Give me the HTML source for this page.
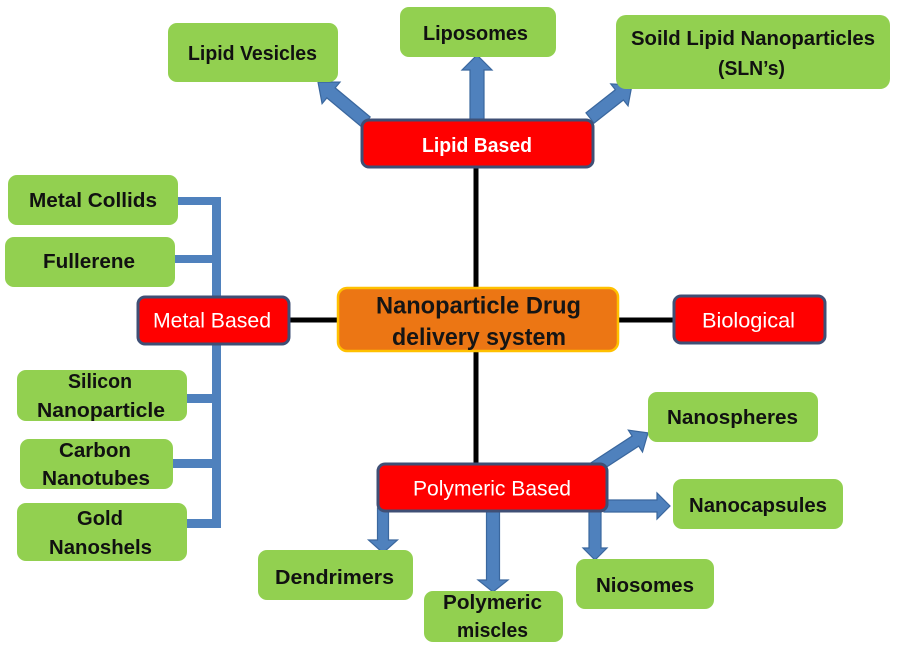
<!DOCTYPE html>
<html><head><meta charset="utf-8">
<style>
html,body{margin:0;padding:0;background:#fff;}
svg{display:block;}
.g{fill:#92D050;}
.r{fill:#FF0000;stroke:#3F4F75;stroke-width:3;}
.tb{font-family:"Liberation Sans",sans-serif;font-weight:bold;font-size:20px;fill:#111;}
.tw{font-family:"Liberation Sans",sans-serif;font-size:21px;fill:#fff;}
.tc{font-family:"Liberation Sans",sans-serif;font-weight:bold;font-size:24px;fill:#151515;}
.ar{fill:#4F81BD;stroke:#3A679E;stroke-width:1.2;}
</style></head>
<body>
<svg width="899" height="651" viewBox="0 0 899 651" xmlns="http://www.w3.org/2000/svg">
<rect width="899" height="651" fill="#fff"/>

<!-- black connectors -->
<rect x="473.5" y="166" width="5" height="123" fill="#000"/>
<rect x="473.5" y="350" width="5" height="115" fill="#000"/>
<rect x="288" y="317.5" width="51" height="5" fill="#000"/>
<rect x="617" y="317.5" width="58" height="5" fill="#000"/>

<!-- blue bracket -->
<g fill="#4F81BD">
<rect x="212" y="197" width="9" height="331"/>
<rect x="176" y="197" width="45" height="8"/>
<rect x="173" y="255" width="43" height="8"/>
<rect x="185" y="394" width="31" height="9"/>
<rect x="171" y="459" width="45" height="9"/>
<rect x="185" y="519" width="36" height="9"/>
</g>

<!-- block arrows -->
<polygon class="ar" transform="translate(366,122) rotate(-140.2)" points="0,-6.5 45.5,-6.5 45.5,-14 62.5,0 45.5,14 45.5,6.5 0,6.5"/>
<polygon class="ar" transform="translate(477,122) rotate(-90)" points="0,-7 52,-7 52,-15 67,0 52,15 52,7 0,7"/>
<polygon class="ar" transform="translate(590,118) rotate(-38.2)" points="0,-6.5 37.4,-6.5 37.4,-14 53.4,0 37.4,14 37.4,6.5 0,6.5"/>
<polygon class="ar" transform="translate(594,468) rotate(-33)" points="0,-6 49.4,-6 49.4,-13 64.4,0 49.4,13 49.4,6 0,6"/>
<polygon class="ar" transform="translate(604,506) rotate(0)" points="0,-6 53,-6 53,-13 66,0 53,13 53,6 0,6"/>
<polygon class="ar" transform="translate(595,508) rotate(90)" points="0,-6 40,-6 40,-12 52,0 40,12 40,6 0,6"/>
<polygon class="ar" transform="translate(383,508) rotate(90)" points="0,-5.5 32,-5.5 32,-14.5 45,0 32,14.5 32,5.5 0,5.5"/>
<polygon class="ar" transform="translate(493,508) rotate(90)" points="0,-6.5 72,-6.5 72,-15 84,0 72,15 72,6.5 0,6.5"/>

<!-- green boxes -->
<rect class="g" x="168" y="23" width="170" height="59" rx="9"/>
<rect class="g" x="400" y="7" width="156" height="50" rx="9"/>
<rect class="g" x="616" y="15" width="274" height="74" rx="10"/>
<rect class="g" x="8" y="175" width="170" height="50" rx="9"/>
<rect class="g" x="5" y="237" width="170" height="50" rx="9"/>
<rect class="g" x="17" y="370" width="170" height="51" rx="9"/>
<rect class="g" x="20" y="439" width="153" height="50" rx="9"/>
<rect class="g" x="17" y="503" width="170" height="58" rx="9"/>
<rect class="g" x="648" y="392" width="170" height="50" rx="9"/>
<rect class="g" x="673" y="479" width="170" height="50" rx="9"/>
<rect class="g" x="576" y="559" width="138" height="50" rx="9"/>
<rect class="g" x="258" y="550" width="155" height="50" rx="9"/>
<rect class="g" x="424" y="591" width="139" height="51" rx="9"/>

<!-- red boxes -->
<rect class="r" x="362" y="120" width="231" height="47" rx="7"/>
<rect class="r" x="138" y="297" width="151" height="47" rx="7"/>
<rect class="r" x="674" y="296" width="151" height="47" rx="7"/>
<rect class="r" x="378" y="464" width="229" height="47" rx="7"/>

<!-- center -->
<rect x="338" y="288" width="280" height="63" rx="9" fill="#EC7614" stroke="#FFC000" stroke-width="2.5"/>

<!-- texts -->
<text class="tb" x="252.5" y="60" text-anchor="middle" textLength="129" lengthAdjust="spacingAndGlyphs">Lipid Vesicles</text>
<text class="tb" x="475.5" y="40" text-anchor="middle" textLength="105" lengthAdjust="spacingAndGlyphs">Liposomes</text>
<text class="tb" x="753" y="45" text-anchor="middle" textLength="244" lengthAdjust="spacingAndGlyphs">Soild Lipid Nanoparticles</text>
<text class="tb" x="751.5" y="75" text-anchor="middle" textLength="67" lengthAdjust="spacingAndGlyphs">(SLN’s)</text>
<text class="tb" x="477" y="152" text-anchor="middle" textLength="110" lengthAdjust="spacingAndGlyphs" style="fill:#fff">Lipid Based</text>

<text class="tb" x="93" y="207" text-anchor="middle" textLength="128" lengthAdjust="spacingAndGlyphs">Metal Collids</text>
<text class="tb" x="89" y="268" text-anchor="middle" textLength="92" lengthAdjust="spacingAndGlyphs">Fullerene</text>
<text class="tw" x="212" y="327.5" text-anchor="middle" textLength="118" lengthAdjust="spacingAndGlyphs">Metal Based</text>
<text class="tb" x="100" y="388" text-anchor="middle" textLength="64" lengthAdjust="spacingAndGlyphs">Silicon</text>
<text class="tb" x="101" y="417" text-anchor="middle" textLength="128" lengthAdjust="spacingAndGlyphs">Nanoparticle</text>
<text class="tb" x="95" y="457" text-anchor="middle" textLength="72" lengthAdjust="spacingAndGlyphs">Carbon</text>
<text class="tb" x="96" y="485" text-anchor="middle" textLength="108" lengthAdjust="spacingAndGlyphs">Nanotubes</text>
<text class="tb" x="100" y="525" text-anchor="middle" textLength="46" lengthAdjust="spacingAndGlyphs">Gold</text>
<text class="tb" x="100.5" y="554" text-anchor="middle" textLength="103" lengthAdjust="spacingAndGlyphs">Nanoshels</text>

<text class="tc" x="478.5" y="313.5" text-anchor="middle" textLength="205" lengthAdjust="spacingAndGlyphs">Nanoparticle Drug</text>
<text class="tc" x="479" y="345" text-anchor="middle" textLength="174" lengthAdjust="spacingAndGlyphs">delivery system</text>
<text class="tw" x="748.5" y="327.5" text-anchor="middle" textLength="93" lengthAdjust="spacingAndGlyphs">Biological</text>

<text class="tw" x="492" y="495.5" text-anchor="middle" textLength="158" lengthAdjust="spacingAndGlyphs">Polymeric Based</text>
<text class="tb" x="732.5" y="424" text-anchor="middle" textLength="131" lengthAdjust="spacingAndGlyphs">Nanospheres</text>
<text class="tb" x="758" y="512" text-anchor="middle" textLength="138" lengthAdjust="spacingAndGlyphs">Nanocapsules</text>
<text class="tb" x="645" y="592" text-anchor="middle" textLength="98" lengthAdjust="spacingAndGlyphs">Niosomes</text>
<text class="tb" x="334.5" y="584" text-anchor="middle" textLength="119" lengthAdjust="spacingAndGlyphs">Dendrimers</text>
<text class="tb" x="492.5" y="609" text-anchor="middle" textLength="99" lengthAdjust="spacingAndGlyphs">Polymeric</text>
<text class="tb" x="492.5" y="637" text-anchor="middle" textLength="71" lengthAdjust="spacingAndGlyphs">miscles</text>
</svg>
</body></html>
